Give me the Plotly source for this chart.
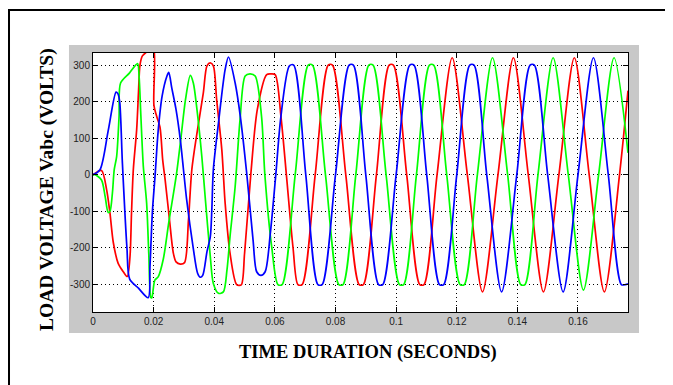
import plotly.graph_objects as go

# ---- data (time in s, voltage in V) ----
red_points = [
    (0.0000, 0), (0.0028, 12), (0.0045, -41), (0.0056, -105), (0.0067, -185),
    (0.0083, -242), (0.0100, -265), (0.0113, -278), (0.0122, -224), (0.0127, -105),
    (0.0133, 14), (0.0144, 123), (0.0150, 224), (0.0155, 300), (0.0163, 325),
    (0.0177, 336), (0.0190, 345), (0.0200, 345), (0.0201, 190), (0.0210, 160),
    (0.0221, 130), (0.0230, 40), (0.0238, -14), (0.0252, -120), (0.0265, -214),
    (0.0274, -238), (0.0288, -244), (0.0302, -240), (0.0315, -123), (0.0326, 14),
    (0.0343, 114), (0.0364, 224), (0.0376, 298), (0.0387, 306), (0.0397, 298),
    (0.0408, 205), (0.0425, 68), (0.0436, -78), (0.0452, -214), (0.0474, -300),
    (0.0489, -301), (0.0500, -215), (0.0521, 5), (0.0542, 178), (0.0573, 274),
    (0.0587, 276), (0.0601, 274), (0.0620, 160), (0.0638, 0), (0.0660, -200),
    (0.0676, -300), (0.0690, -300), (0.0733, 0), (0.0776, 300), (0.0790, 300),
    (0.0834, 0), (0.0878, -300), (0.0892, -300), (0.0935, 0), (0.0977, 300),
    (0.0991, 300), (0.1035, 0), (0.1078, -300), (0.1092, -300), (0.1135, 0),
    (0.1185, 320), (0.1235, 0), (0.1285, -320), (0.1336, 0), (0.1387, 320),
    (0.1436, 0), (0.1486, -320), (0.1537, 0), (0.1588, 320), (0.1637, 0),
    (0.1687, -320), (0.1737, 0), (0.1765, 230),
]

green_points = [
    (0.0000, 0), (0.0007, 0), (0.0028, -14), (0.0040, -59), (0.0050, -103),
    (0.0056, -100), (0.0064, -50), (0.0070, 14), (0.0078, 50), (0.0086, 160),
    (0.0091, 251), (0.0120, 278), (0.0147, 304), (0.0152, 269), (0.0158, 160),
    (0.0166, 23), (0.0177, -78), (0.0184, -215), (0.0191, -336), (0.0194, -336),
    (0.0204, -288), (0.0215, -279), (0.0232, -230), (0.0250, -130), (0.0275, 0),
    (0.0290, 100), (0.0305, 205), (0.0321, 272), (0.0331, 251), (0.0343, 178),
    (0.0359, 50), (0.0370, -60), (0.0387, -224), (0.0397, -297), (0.0414, -324),
    (0.0430, -320), (0.0442, -260), (0.0452, -169), (0.0469, -32), (0.0485, 150),
    (0.0502, 270), (0.0518, 276), (0.0535, 270), (0.0556, 160), (0.0567, 0),
    (0.0590, -200), (0.0610, -300), (0.0624, -300), (0.0667, 0), (0.0710, 300),
    (0.0724, 300), (0.0767, 0), (0.0811, -300), (0.0825, -300), (0.0867, 0),
    (0.0910, 300), (0.0924, 300), (0.0967, 0), (0.1011, -300), (0.1025, -300),
    (0.1067, 0), (0.1110, 300), (0.1124, 300), (0.1167, 0), (0.1211, -300),
    (0.1225, -300), (0.1268, 0), (0.1318, 320), (0.1368, 0), (0.1411, -300),
    (0.1425, -300), (0.1468, 0), (0.1518, 320), (0.1568, 0), (0.1618, -315),
    (0.1668, 0), (0.1719, 320), (0.1765, 60),
]

blue_points = [
    (0.0000, 0), (0.0023, 14), (0.0050, 120), (0.0076, 226), (0.0082, 222),
    (0.0088, 200), (0.0097, 32), (0.0112, -200), (0.0121, -285), (0.0150, -310),
    (0.0182, -336), (0.0188, -250), (0.0196, -100), (0.0205, 0), (0.0215, 120),
    (0.0228, 215), (0.0244, 270), (0.0250, 280), (0.0260, 237), (0.0274, 178),
    (0.0288, 96), (0.0309, -68), (0.0330, -196), (0.0345, -269), (0.0354, -280),
    (0.0362, -275), (0.0376, -210), (0.0387, -169), (0.0392, -96), (0.0397, 14),
    (0.0414, 142), (0.0436, 288), (0.0447, 322), (0.0469, 251), (0.0486, 160),
    (0.0507, 5), (0.0528, -178), (0.0540, -265), (0.0554, -275), (0.0568, -265),
    (0.0585, -160), (0.0603, 0), (0.0620, 160), (0.0648, 298), (0.0662, 300),
    (0.0702, 0), (0.0742, -300), (0.0756, -300), (0.0800, 0), (0.0845, 300),
    (0.0859, 300), (0.0900, 0), (0.0942, -300), (0.0956, -300), (0.1000, 0),
    (0.1045, 300), (0.1059, 300), (0.1101, 0), (0.1143, -300), (0.1157, -300),
    (0.1200, 0), (0.1243, 300), (0.1257, 300), (0.1299, 0), (0.1348, -320),
    (0.1398, 0), (0.1442, 300), (0.1456, 300), (0.1500, 0), (0.1551, -320),
    (0.1600, 0), (0.1651, 320), (0.1700, 0), (0.1743, -300), (0.1757, -300),
    (0.1765, -298),
]

x_tick_values = [0, 0.02, 0.04, 0.06, 0.08, 0.1, 0.12, 0.14, 0.16]
x_tick_labels = ["0", "0.02", "0.04", "0.06", "0.08", "0.1", "0.12", "0.14", "0.16"]
y_tick_values = [-300, -200, -100, 0, 100, 200, 300]
y_tick_labels = ["-300", "-200", "-100", "0", "100", "200", "300"]

x_title = "TIME DURATION (SECONDS)"
y_title = "LOAD VOLTAGE Vabc (VOLTS)"

series = [
    ("Va", red_points, "#FF0000"),
    ("Vc", green_points, "#00FF00"),
    ("Vb", blue_points, "#0000FF"),
]

fig = go.Figure()
for name, pts, color in series:
    fig.add_trace(go.Scatter(
        x=[p[0] for p in pts], y=[p[1] for p in pts], name=name,
        mode="lines", line=dict(color=color, width=1.7, shape="spline", smoothing=0.8),
        showlegend=False, hoverinfo="skip",
    ))

tick_font = dict(family="Liberation Sans, Arial", size=10, color="#222222")
axis_common = dict(
    showline=True, linecolor="black", linewidth=1, mirror="ticks",
    ticks="inside", ticklen=5, tickcolor="black",
    showgrid=True, gridcolor="#000000", gridwidth=1, griddash="1px,3px",
    zeroline=False, tickfont=tick_font,
)
fig.update_xaxes(range=[0, 0.1765], tickvals=x_tick_values, ticktext=x_tick_labels, **axis_common)
fig.update_yaxes(range=[-375, 333], tickvals=y_tick_values, ticktext=y_tick_labels, **axis_common)

# figure decorations: outer frame, grey MATLAB panel, white axes area
fig.add_shape(type="rect", xref="paper", yref="paper", x0=-0.157, x1=1.12, y0=-0.40, y1=1.166,
              line=dict(color="black", width=2), fillcolor="rgba(0,0,0,0)", layer="below")
fig.add_shape(type="rect", xref="paper", yref="paper", x0=-0.0449, x1=1.0206, y0=-0.0811, y1=1.031,
              line=dict(width=0), fillcolor="#C8C8C8", layer="below")
fig.add_shape(type="rect", xref="paper", yref="paper", x0=0, x1=1, y0=0, y1=1,
              line=dict(width=0), fillcolor="white", layer="below")

serif = "Liberation Serif, Times New Roman"
fig.add_annotation(text="<b>" + x_title + "</b>", xref="paper", yref="paper",
                   x=0.514, y=-0.158, xanchor="center", yanchor="middle",
                   showarrow=False, font=dict(family=serif, size=18.5, color="black"))
fig.add_annotation(text="<b>" + y_title + "</b>", xref="paper", yref="paper",
                   x=-0.086, y=0.475, xanchor="center", yanchor="middle", textangle=-90,
                   showarrow=False, font=dict(family=serif, size=19.5, color="black"))

# the page body adds an 8 px margin, so the figure is 8 px smaller than the window
fig.update_layout(
    width=665, height=377,
    margin=dict(l=85, r=45, t=45, b=73),
    paper_bgcolor="white", plot_bgcolor="white",
    showlegend=False,
)

fig.write_html("out.html")
